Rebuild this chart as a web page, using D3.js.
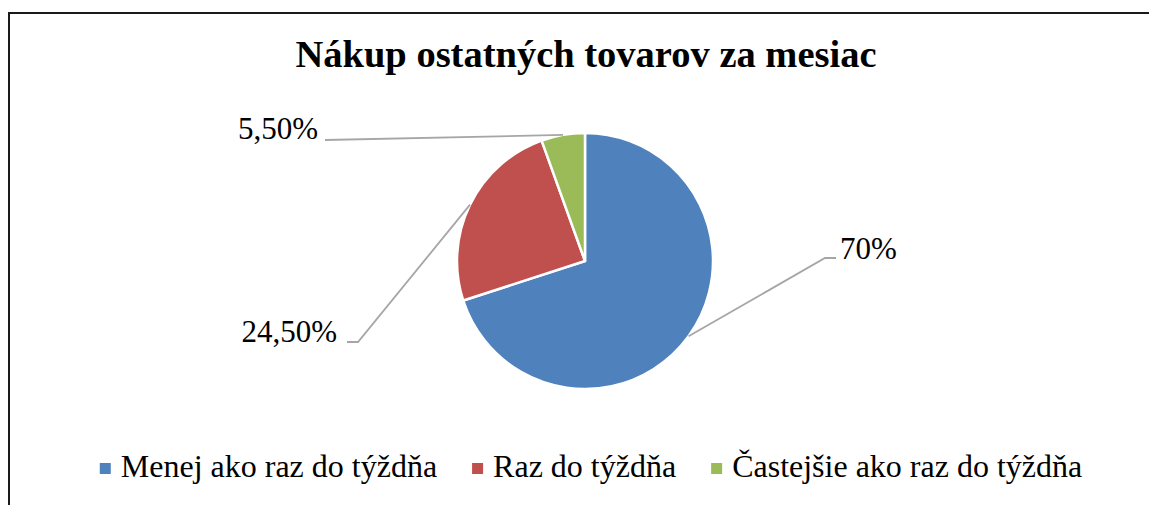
<!DOCTYPE html>
<html>
<head>
<meta charset="utf-8">
<script src="https://cdn.jsdelivr.net/npm/d3@7"></script>
<style>
  body { margin: 0; background: #fff; }
  text { font-family: "Liberation Serif", "Times New Roman", serif; fill: #000; }
</style>
</head>
<body>
<div id="chart"></div>
<script>
// data
var categories = ['Menej ako raz do týždňa', 'Raz do týždňa', 'Častejšie ako raz do týždňa'];
var values = [70, 24.5, 5.5];
var valueLabels = ['70%', '24,50%', '5,50%'];
var colors = ['#4F81BD', '#C0504D', '#9BBB59'];

var width = 1149, height = 505;
var cx = 585, cy = 261, radius = 128;
var serif = '"Liberation Serif", "Times New Roman", serif';

var svg = d3.select('#chart')
    .append('svg')
    .attr('width', width)
    .attr('height', height);

// frame (only top and left edge are inside the picture)
svg.append('path')
    .attr('d', 'M9,' + height + 'V13H' + width)
    .attr('fill', 'none')
    .attr('stroke', '#1a1a1a')
    .attr('stroke-width', 2);

// title
svg.append('text')
    .attr('x', 586)
    .attr('y', 67)
    .attr('text-anchor', 'middle')
    .attr('font-family', serif)
    .style('font-size', '38.5px')
    .style('font-weight', 'bold')
    .text('Nákup ostatných tovarov za mesiac');

var pie = d3.pie().sort(null).value(function (d) { return d; });
var arcs = pie(values);

var arc = d3.arc().innerRadius(0).outerRadius(radius);
var edge = d3.arc().innerRadius(radius).outerRadius(radius);

var g = svg.append('g')
    .attr('transform', 'translate(' + cx + ',' + cy + ')');

g.selectAll('path.slice')
    .data(arcs)
    .enter()
    .append('path')
    .attr('class', 'slice')
    .attr('d', arc)
    .attr('fill', function (d, i) { return colors[i]; })
    .attr('stroke', '#fff')
    .attr('stroke-width', 2.5)
    .attr('stroke-linejoin', 'round');

// label layout: elbow + end of the leader line, relative to centre
var labelLayout = [
    {elbow: [240, -3], end: [251, -3], anchor: 'start', tx: 255, ty: -2},
    {elbow: [-227, 81], end: [-238, 81], anchor: 'end', tx: -248, ty: 81},
    {elbow: null, end: [-260, -121], anchor: 'end', tx: -267, ty: -122}
];

g.selectAll('polyline.leader')
    .data(arcs)
    .enter()
    .append('polyline')
    .attr('class', 'leader')
    .attr('points', function (d, i) {
        var p = edge.centroid(d), L = labelLayout[i];
        var pts = [p];
        if (L.elbow) pts.push(L.elbow);
        pts.push(L.end);
        return pts.map(function (q) { return q.join(','); }).join(' ');
    })
    .attr('fill', 'none')
    .attr('stroke', '#a6a6a6')
    .attr('stroke-width', 1.8);

g.selectAll('text.lbl')
    .data(arcs)
    .enter()
    .append('text')
    .attr('class', 'lbl')
    .attr('x', function (d, i) { return labelLayout[i].tx; })
    .attr('y', function (d, i) { return labelLayout[i].ty; })
    .attr('text-anchor', function (d, i) { return labelLayout[i].anchor; })
    .attr('font-family', serif)
    .style('font-size', '31px')
    .text(function (d, i) { return valueLabels[i]; });

// legend
var legend = svg.append('g');
var items = legend.selectAll('g.item')
    .data(categories)
    .enter()
    .append('g')
    .attr('class', 'item');

items.append('rect')
    .attr('width', 11)
    .attr('height', 11)
    .attr('y', -14)
    .attr('fill', function (d, i) { return colors[i]; });

items.append('text')
    .attr('x', 21)
    .attr('font-family', serif)
    .style('font-size', '32px')
    .text(function (d) { return d; });

var xPos = 0;
items.each(function () {
    var w = 21 + d3.select(this).select('text').node().getComputedTextLength();
    d3.select(this).attr('transform', 'translate(' + xPos + ',0)');
    xPos += w + 35;
});
var total = xPos - 35;
legend.attr('transform', 'translate(' + (591 - total / 2) + ',477)');
</script>
</body>
</html>
